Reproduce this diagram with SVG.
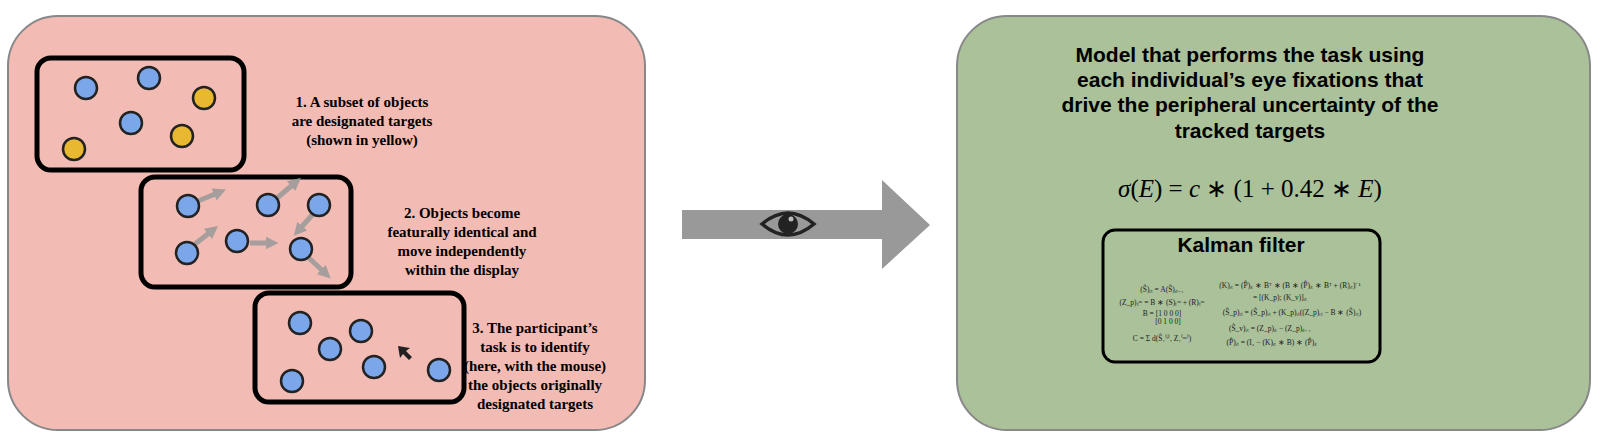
<svg xmlns="http://www.w3.org/2000/svg" width="1600" height="442" viewBox="0 0 1600 442">
<style>
.panel{stroke:#888;stroke-width:2}
.box{fill:none;stroke:#000;stroke-width:5}
.b{fill:#7ba7ea;stroke:#222;stroke-width:2.5}
.y{fill:#e8b830;stroke:#222;stroke-width:2.5}
.t{font-family:"Liberation Serif",serif;font-weight:bold;font-size:15px;text-anchor:middle}
.h{font-family:"Liberation Sans",Arial,sans-serif;font-weight:bold;font-size:21px;text-anchor:middle}
.eq{font-family:"Liberation Serif",serif;font-size:7.5px;fill:#222}
.mv{stroke:#999;stroke-width:5;opacity:0.85}
</style>
<defs>
<marker id="ah" viewBox="0 0 10 10" refX="5" refY="5" markerWidth="2.6" markerHeight="2.6" orient="auto"><path d="M0,0L10,5L0,10z" fill="#999"/></marker>
</defs>
<g id="left-panel">
<rect class="panel" x="8" y="16" width="637" height="414" rx="50" fill="#f2bbb4"/>
</g>
<g id="step1">
<rect class="box" x="37" y="58" width="207" height="112" rx="14"/>
<circle class="b" cx="86" cy="88" r="11"/><circle class="b" cx="149" cy="78" r="11"/><circle class="y" cx="204" cy="98" r="11"/>
<circle class="b" cx="131" cy="123" r="11"/><circle class="y" cx="182" cy="136" r="11"/><circle class="y" cx="74" cy="149" r="11"/>
<text class="t" x="362" y="107">1. A subset of objects</text>
<text class="t" x="362" y="126">are designated targets</text>
<text class="t" x="362" y="145">(shown in yellow)</text>
</g>
<g id="step2">
<rect class="box" x="141" y="177" width="210" height="110" rx="14" fill="#f2bbb4"/>
<g class="mv" marker-end="url(#ah)">
<line x1="198" y1="201" x2="220" y2="192"/><line x1="277" y1="198" x2="296" y2="182"/>
<line x1="313" y1="214" x2="298" y2="231"/><line x1="195" y1="244" x2="213" y2="230"/>
<line x1="250" y1="243" x2="272" y2="243"/><line x1="309" y1="258" x2="326" y2="274"/>
</g>
<circle class="b" cx="188" cy="206" r="11"/><circle class="b" cx="268" cy="205" r="11"/><circle class="b" cx="319" cy="205" r="11"/>
<circle class="b" cx="187" cy="253" r="11"/><circle class="b" cx="237" cy="241" r="11"/><circle class="b" cx="301" cy="249" r="11"/>
<text class="t" x="462" y="218">2. Objects become</text>
<text class="t" x="462" y="237">featurally identical and</text>
<text class="t" x="462" y="256">move independently</text>
<text class="t" x="462" y="275">within the display</text>
</g>
<g id="step3">
<rect class="box" x="255" y="293" width="209" height="109" rx="14"/>
<circle class="b" cx="300" cy="323" r="11"/><circle class="b" cx="361" cy="331" r="11"/><circle class="b" cx="330" cy="349" r="11"/>
<circle class="b" cx="374" cy="367" r="11"/><circle class="b" cx="439" cy="370" r="11"/><circle class="b" cx="292" cy="381" r="11"/>
<path d="M398,346L410,348L406,351L412,357L409,360L403,354L400,358z" fill="#222"/>
<text class="t" x="535" y="333">3. The participant’s</text>
<text class="t" x="535" y="352">task is to identify</text>
<text class="t" x="535" y="371">(here, with the mouse)</text>
<text class="t" x="535" y="390">the objects originally</text>
<text class="t" x="535" y="409">designated targets</text>
</g>
<g id="connectors">
<path d="M682,210H882V180L930,225L882,269V239H682z" fill="#999"/>
<path d="M762,224Q788,202 814,224Q788,246 762,224z" fill="#999" stroke="#222" stroke-width="3.5"/>
<circle cx="788" cy="224" r="10" fill="#222"/>
<circle cx="791" cy="219" r="2.5" fill="#bbb"/>
</g>
<g id="right-panel">
<rect class="panel" x="957" y="16" width="633" height="414" rx="50" fill="#aac19a"/>
<text class="h" x="1250" y="62">Model that performs the task using</text>
<text class="h" x="1250" y="87">each individual’s eye fixations that</text>
<text class="h" x="1250" y="112">drive the peripheral uncertainty of the</text>
<text class="h" x="1250" y="138">tracked targets</text>
<text x="1250" y="197" text-anchor="middle" font-family="Liberation Serif,serif" font-size="25"><tspan font-style="italic">σ</tspan>(<tspan font-style="italic">E</tspan>) = <tspan font-style="italic">c</tspan> ∗ (1 + 0.42 ∗ <tspan font-style="italic">E</tspan>)</text>
</g>
<g id="kalman">
<rect x="1103" y="230" width="277" height="132" rx="12" fill="none" stroke="#000" stroke-width="3"/>
<text class="h" x="1241" y="252">Kalman filter</text>
<g class="eq" text-anchor="middle">
<text x="1162" y="292">(Ŝ)ᵢₜ = A(Ŝ)ᵢₜ₋₁</text>
<text x="1162" y="305">(Z_p)ₜᵐ = B ∗ (S)ₜᵐ + (R)ₜᵐ</text>
<text x="1162" y="316">B = [1 0 0 0]</text>
<text x="1168" y="324">[0 1 0 0]</text>
<text x="1162" y="341">C = Σ d(Ŝ₁⁽ⁱ⁾, Z₁⁽ᵐ⁾)</text>
<text x="1290" y="288">(K)ᵢₜ = (P̂)ᵢₜ ∗ Bᵀ ∗ (B ∗ (P̂)ᵢₜ ∗ Bᵀ + (R)ᵢₜ)⁻¹</text>
<text x="1280" y="300">= [(K_p); (K_v)]ᵢₜ</text>
<text x="1292" y="315">(Ŝ_p)ᵢₜ = (Ŝ_p)ᵢₜ + (K_p)ᵢₜ((Z_p)ᵢₜ − B ∗ (Ŝ)ᵢₜ)</text>
<text x="1270" y="331">(Ŝ_v)ᵢₜ = (Z_p)ᵢₜ − (Z_p)ᵢₜ₋₁</text>
<text x="1272" y="345">(P̂)ᵢₜ = (I₂ − (K)ᵢₜ ∗ B) ∗ (P̂)ᵢₜ</text>
</g>
</g>
</svg>
